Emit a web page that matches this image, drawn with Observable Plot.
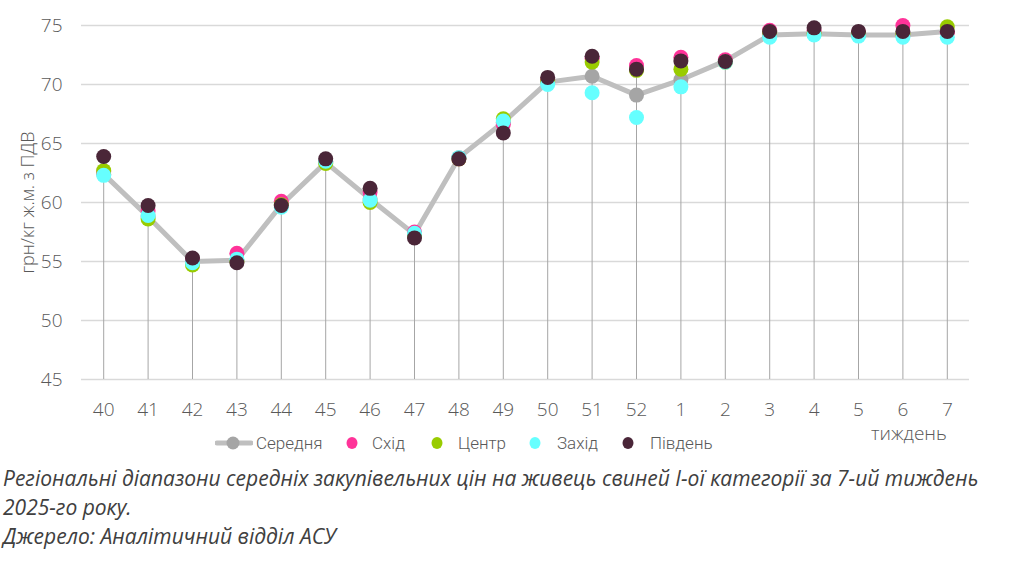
<!DOCTYPE html>
<html>
<head>
<meta charset="utf-8">
<script src="https://cdn.jsdelivr.net/npm/d3@7"></script>
<script src="https://cdn.jsdelivr.net/npm/@observablehq/plot@0.6"></script>
<style>
  html, body { margin: 0; padding: 0; background: #fff; }
  #wrap { position: relative; width: 1012px; height: 562px; font-family: "Open Sans", sans-serif; }
  #chart { position: absolute; left: 0; top: 0; }
  .legend { position: absolute; top: 431px; left: 0; width: 1012px; height: 24px; font-family: Roboto, sans-serif; font-size: 17px; color: #595959; font-weight: 300; }
  .li { position: absolute; top: 0; display: flex; align-items: center; height: 24px; }
  .li svg { display: block; }
  .xlab { position: absolute; left: 871px; top: 420px; font-size: 19px; color: #595959; font-weight: 300; }
  .caption { position: absolute; left: 3px; top: 464px; font-size: 21px; line-height: 29px; font-style: italic; color: #404040; letter-spacing: 0px; white-space: nowrap; }
</style>
</head>
<body>
<div id="wrap">
  <div id="chart"></div>
  <div class="xlab">тиждень</div>
  <div class="legend" id="legend"></div>
  <div class="caption">Регіональні діапазони середніх закупівельних цін на живець свиней І-ої категорії за 7-ий тиждень<br>2025-го року.<br>Джерело: Аналітичний відділ АСУ</div>
</div>
<script>
const weeks  = ["40","41","42","43","44","45","46","47","48","49","50","51","52","1","2","3","4","5","6","7"];
const avg    = [62.4, 58.8, 55.0, 55.1, 59.8, 63.4, 60.3, 57.3, 63.8, 66.8, 70.2, 70.7, 69.1, 70.4, 72.0, 74.2, 74.3, 74.2, 74.2, 74.5];
const east   = [62.6, 59.3, 55.1, 55.7, 60.1, 63.5, 60.9, 57.5, 63.7, 66.6, 70.4, 72.2, 71.6, 72.3, 72.1, 74.6, 74.6, 74.4, 75.0, 74.4];
const center = [62.7, 58.6, 54.7, 55.0, 59.8, 63.3, 60.0, 57.2, 63.7, 67.1, 70.3, 71.9, 71.2, 71.3, 71.9, 74.4, 74.3, 74.3, 74.3, 74.9];
const west   = [62.3, 58.9, 54.9, 55.2, 59.6, 63.5, 60.2, 57.4, 63.8, 66.9, 70.0, 69.3, 67.2, 69.8, 71.9, 74.0, 74.2, 74.1, 74.0, 74.0];
const south  = [63.9, 59.75, 55.3, 54.9, 59.75, 63.7, 61.2, 57.0, 63.7, 65.9, 70.6, 72.4, 71.3, 72.0, 71.95, 74.5, 74.8, 74.5, 74.5, 74.5];
const yTicks = [45, 50, 55, 60, 65, 70, 75];

const seriesNames  = ["Середня", "Схід", "Центр", "Захід", "Південь"];
const seriesColors = ["#a5a5a5", "#ff3399", "#99cc00", "#66ffff", "#4a2638"];
const seriesValues = [avg, east, center, west, south];

const rows = [];
seriesNames.forEach((name, s) => weeks.forEach((w, i) => rows.push({week: w, series: name, value: seriesValues[s][i]})));
const drops = weeks.map((w, i) => ({week: w, top: Math.max(avg[i], east[i], center[i], west[i], south[i])}));
const avgRows = rows.filter(d => d.series === "Середня");

const colorMap = Object.fromEntries(seriesNames.map((n, i) => [n, seriesColors[i]]));

const chart = Plot.plot({
  width: 1012,
  height: 430,
  marginLeft: 81,
  marginRight: 43,
  marginTop: 25,
  marginBottom: 51,
  style: {fontFamily: "Open Sans, sans-serif", fontSize: "19px", color: "#595959", background: "#fff", fontWeight: 300},
  x: {type: "point", domain: weeks, padding: 0.5, round: false, label: null},
  y: {domain: [45, 75], ticks: yTicks, label: null},
  marks: [
    Plot.gridY(yTicks, {stroke: "#d9d9d9", strokeOpacity: 1, strokeWidth: 1.5}),
    Plot.axisY(yTicks, {tickSize: 0, tickPadding: 19, fontSize: 19, fill: "#595959", label: null}),
    Plot.axisX({tickSize: 0, tickPadding: 23, fontSize: 19, fill: "#595959", label: null}),
    Plot.ruleX(drops, {x: "week", y1: 45, y2: "top", stroke: "#a6a6a6", strokeWidth: 1}),
    Plot.line(avgRows, {x: "week", y: "value", stroke: "#bfbfbf", strokeWidth: 5, strokeLinejoin: "round"}),
    ...seriesNames.map(n => Plot.dot(rows.filter(d => d.series === n), {x: "week", y: "value", r: 7.5, fill: colorMap[n], stroke: "none"})),
    Plot.text(["грн/кг ж.м. з ПДВ"], {frameAnchor: "left", textAnchor: "middle", dx: -53, rotate: -90, fontSize: 18, fill: "#595959"})
  ]
});
document.getElementById("chart").appendChild(chart);

// legend layout (swatch centre, text start), in pixels
const legendSwatchX = [233, 352, 437, 535, 628];
const legendTextX   = [256, 372, 458, 557, 650];
const legend = document.getElementById("legend");
seriesNames.forEach((name, i) => {
  const item = document.createElement("div");
  item.className = "li";
  let sw, left, swRight;
  if (i === 0) {
    left = legendSwatchX[i] - 18; swRight = left + 38;
    sw = `<svg width="38" height="24"><line x1="2" x2="36" y1="12" y2="12" stroke="#bfbfbf" stroke-width="5" stroke-linecap="round"/><circle cx="18" cy="12" r="6.5" fill="${seriesColors[i]}"/></svg>`;
  } else {
    left = legendSwatchX[i] - 10; swRight = left + 20;
    sw = `<svg width="20" height="24"><ellipse cx="10" cy="12" rx="5.5" ry="6" fill="${seriesColors[i]}"/></svg>`;
  }
  item.style.left = left + "px";
  item.innerHTML = sw + `<span style="margin-left:${legendTextX[i] - swRight}px">${name}</span>`;
  legend.appendChild(item);
});
</script>
</body>
</html>
